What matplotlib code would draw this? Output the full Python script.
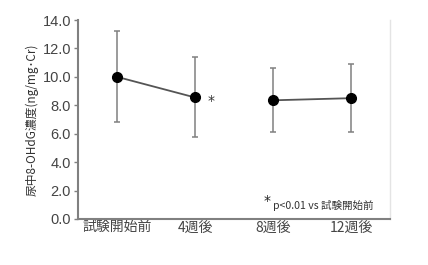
import matplotlib as mpl
mpl.use("Agg")
import matplotlib.pyplot as plt

plt.rcParams["font.family"] = ["Noto Sans CJK JP", "DejaVu Sans"]

categories = ["試験開始前", "4週後", "8週後", "12週後"]
means = [10.0, 8.55, 8.35, 8.5]
upper = [13.2, 11.4, 10.6, 10.9]
lower = [6.85, 5.8, 6.1, 6.1]
segments = [(0, 1), (2, 3)]
yticks = [0, 2, 4, 6, 8, 10, 12, 14]

fig = plt.figure(figsize=(4.28, 2.65), dpi=100)
ax = fig.add_axes([78/428, 46/265, 312/428, 199/265])

xs = [i + 0.5 for i in range(len(categories))]
yerr = [[m - l for m, l in zip(means, lower)], [u - m for m, u in zip(means, upper)]]
ax.errorbar(xs, means, yerr=yerr, fmt="none", ecolor="#808080", elinewidth=1.1,
	capsize=2.5, capthick=1.1, zorder=2)
for a, b in segments:
	ax.plot([xs[a], xs[b]], [means[a], means[b]], color="#555555", lw=1.3, zorder=3)
ax.plot(xs, means, "o", color="black", ms=7, zorder=4)

ax.text(xs[1] + 0.21, means[1] - 0.25, "*", fontsize=10, color="#333333",
	ha="center", va="center", family="DejaVu Sans")
ax.text(2.38, 0.75, "*", fontsize=10, color="#222222", ha="left", va="bottom", family="DejaVu Sans")
ax.text(2.5, 0.55, "p<0.01 vs 試験開始前", fontsize=7.6, color="#333333", ha="left", va="bottom")

ax.set_xlim(0, 4)
ax.set_ylim(0, 14)
ax.set_yticks(yticks)
ax.set_yticklabels(["%.1f" % t for t in yticks], fontsize=10.5, color="#444444",
	family="Liberation Sans")
ax.set_xticks(xs)
ax.set_xticklabels(categories, fontsize=10, color="#444444")
ax.tick_params(axis="x", length=0, pad=1)
ax.tick_params(axis="y", length=3, color="#808080", width=1, pad=2)
ax.set_ylabel("尿中8-OHdG濃度(ng/mg･Cr)", fontsize=8.5, color="#333333", labelpad=3)

for s in ["left", "bottom"]:
	ax.spines[s].set_color("#808080")
	ax.spines[s].set_linewidth(1.5)
ax.spines["top"].set_visible(False)
ax.spines["right"].set_color("#e4e4e4")
ax.spines["right"].set_linewidth(1)

plt.savefig("out.png", dpi=100)
